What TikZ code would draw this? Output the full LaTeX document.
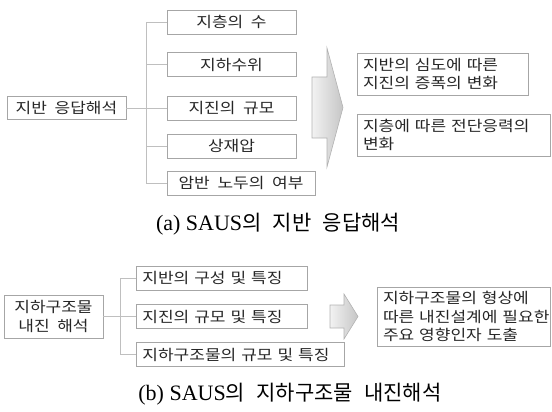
\documentclass[tikz,border=0pt]{standalone}
\usepackage{fontspec}
\setmainfont{Liberation Serif}
\newfontfamily\kr[WordSpace=2.0,FakeStretch=1.15]{Noto Sans CJK KR}
\newfontfamily\krcap[WordSpace=2.4]{Noto Sans CJK KR}
\usetikzlibrary{arrows.meta,positioning,calc}

\begin{document}
\begin{tikzpicture}[x=1pt,y=-1pt,
    box/.style={draw=gray!70,line width=0.8pt,align=center,inner sep=0pt,text=black!85,font=\kr\fontsize{14.8}{18}\selectfont},
    child/.style={box,minimum width=129pt,minimum height=24pt},
    childb/.style={box,align=left,anchor=west,inner xsep=6pt,text width=159pt,minimum height=24pt,font=\kr\fontsize{14.8}{18.5}\selectfont},
    note/.style={box,align=left,inner xsep=6pt},
    link/.style={draw=gray!50,line width=0.8pt},
    bigarrow/.style={draw=gray!60,line width=0.6pt,left color=gray!10,right color=gray!45},
    captext/.style={font=\fontsize{22}{24}\selectfont}]
    \useasboundingbox (0,0) rectangle (552,412);
    % (a)
    \node[box,minimum width=119pt,minimum height=23pt] (ground) at (66.5,108) {지반 응답해석};
    \node[child] (layer) at (231.5,22) {지층의 수};
    \node[child] (water) at (231.5,64.5) {지하수위};
    \node[child] (quake) at (231.5,108) {지진의 규모};
    \node[child] (load) at (231.5,146) {상재압};
    \node[child,minimum width=148pt] (rock) at (241,183) {암반 노두의 여부};
    \draw[link] (ground) -- (quake);
    \draw[link] (layer.west) -- ++(-20,0) |- (rock.west);
    \draw[link] (water.west) -- ++(-20,0);
    \draw[link] (load.west) -- ++(-20,0);
    \path[bigarrow] (312,77) -- (327,77) -- (327,48) -- (343,107.5) -- (327,167) -- (327,138) -- (312,138) -- cycle;
    \node[note,text width=159pt,minimum height=42pt] (depth) at (442.5,74) {지반의 심도에 따른\\지진의 증폭의 변화};
    \node[note,text width=181pt,minimum height=42pt] (shear) at (453.5,135) {지층에 따른 전단응력의\\변화};
    \node[captext] (capa) at (278,224) {(a) SAUS{\krcap\fontsize{21}{24}\selectfont 의 지반 응답해석}};
    % (b)
    \node[box,font=\kr\fontsize{14.8}{18.5}\selectfont,minimum width=99pt,minimum height=43pt] (struct) at (53.5,316.5) {지하구조물\\내진 해석};
    \node[childb] (soil) at (136,278) {지반의 구성 및 특징};
    \node[childb] (scale) at (136,316.5) {지진의 규모 및 특징};
    \node[childb,text width=196pt] (size) at (136,354.5) {지하구조물의 규모 및 특징};
    \draw[link] (struct) -- (scale);
    \draw[link] (soil.west) -- ++(-16,0) |- (size.west);
    \path[bigarrow] (330,305) -- (344,305) -- (344,294) -- (358,316.5) -- (344,339) -- (344,328) -- (330,328) -- cycle;
    \node[note,font=\kr\fontsize{14.8}{18.5}\selectfont,text width=161pt,minimum height=59pt] (factor) at (463.5,316.5) {지하구조물의 형상에\\\mbox{따른 내진설계에 필요한}\\주요 영향인자 도출};
    \node[captext] (capb) at (290,394) {(b) SAUS{\krcap\fontsize{21}{24}\selectfont 의 지하구조물 내진해석}};
\end{tikzpicture}
\end{document}
